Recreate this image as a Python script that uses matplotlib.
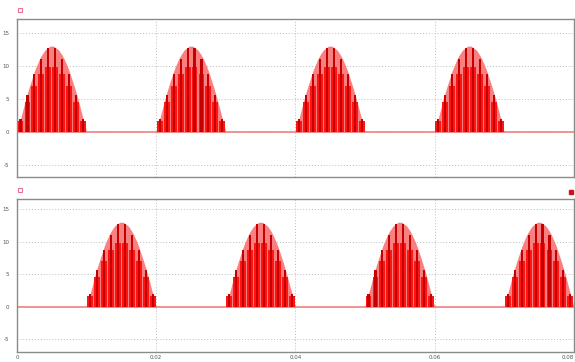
import numpy as np
import matplotlib.pyplot as plt
from matplotlib.lines import Line2D

plt.rcParams['axes.unicode_minus'] = False

# datos
half_period = 0.01
top_starts = [0.0, 0.02, 0.04, 0.06]
bottom_starts = [0.01, 0.03, 0.05, 0.07]

# envolvente de cada semiciclo (fraccion del semiciclo, valor)
env_frac = [0, 0.025, 0.05, 0.075, 0.1, 0.125, 0.15, 0.175, 0.2, 0.225, 0.25,
            0.275, 0.3, 0.325, 0.35, 0.375, 0.4, 0.425, 0.45, 0.475, 0.5,
            0.525, 0.55, 0.575, 0.6, 0.625, 0.65, 0.675, 0.7, 0.725, 0.75,
            0.775, 0.8, 0.825, 0.85, 0.875, 0.9, 0.925, 0.95, 0.975, 1.0]
env_val = [0, 1.0, 2.0, 3.0, 4.0, 5.0, 5.9, 6.8, 7.6, 8.4, 9.2,
           9.9, 10.5, 11.1, 11.6, 12.0, 12.4, 12.6, 12.8, 13.0, 13.0,
           13.0, 12.8, 12.6, 12.4, 12.0, 11.6, 11.1, 10.5, 9.9, 9.2,
           8.4, 7.6, 6.8, 5.9, 5.0, 4.0, 3.0, 2.0, 1.0, 0]

# pulsos dentro de cada semiciclo
pulse_frac = [0.05, 0.15, 0.25, 0.35, 0.45, 0.55, 0.65, 0.75, 0.85, 0.95]
pulse_dark = [1.9, 5.6, 8.8, 11.1, 12.7, 12.7, 11.1, 8.8, 5.6, 1.9]
pulse_red = [1.6, 4.6, 7.0, 8.8, 9.8, 9.8, 8.8, 7.0, 4.6, 1.6]

yticks = [-5, 0, 5, 10, 15]
xticks = [0, 0.02, 0.04, 0.06, 0.08]
xlabels = ['0', '0.02', '0.04', '0.06', '0.08']

fig = plt.figure(figsize=(5.75, 3.62), dpi=100)
ax1 = fig.add_axes([0.0296, 0.511, 0.9684, 0.4365])
ax2 = fig.add_axes([0.0296, 0.0276, 0.9684, 0.4214])


def dibujar(ax, starts, ylim):
    ef = np.array(env_frac)
    pf = np.array(pulse_frac)
    for s in starts:
        x = s + ef * half_period
        ax.fill_between(x, 0, env_val, color='#f88080', lw=0, zorder=2)
        xp = s + pf * half_period
        ax.bar(xp, pulse_red, width=half_period * 0.085, color='#ff1414', lw=0, zorder=3)
        ax.bar(xp, pulse_dark, width=half_period * 0.03, color='#c40000', lw=0, zorder=4)
    ax.axhline(0, color='#f08a8a', lw=1.3, zorder=1)
    ax.set_xlim(0, 0.08)
    ax.set_ylim(*ylim)
    ax.set_yticks(yticks)
    ax.set_xticks(xticks)
    ax.grid(True, color='#bbbbbb', ls=(0, (1, 2)), lw=0.7)
    ax.set_axisbelow(True)
    ax.tick_params(axis='y', length=0, labelsize=4, labelcolor='#555555', pad=5.5)
    ax.tick_params(axis='x', length=0, labelsize=4, labelcolor='#555555', pad=2)
    for sp in ax.spines.values():
        sp.set_color('#8a8a8a')
        sp.set_linewidth(1.0)


dibujar(ax1, top_starts, (-6.8, 17.1))
dibujar(ax2, bottom_starts, (-6.95, 16.5))
ax1.set_xticklabels([])
ax2.set_xticklabels(xlabels)
ax2.get_xticklabels()[-1].set_ha('right')

# marcadores pequenos de las trazas
fig.add_artist(Line2D([20 / 575], [1 - 10 / 362], marker='s', ms=3.5, mfc='none',
                      mec='#f07090', mew=0.8, transform=fig.transFigure))
fig.add_artist(Line2D([20 / 575], [1 - 190 / 362], marker='s', ms=3.5, mfc='none',
                      mec='#f07090', mew=0.8, transform=fig.transFigure))
fig.add_artist(Line2D([571 / 575], [1 - 192 / 362], marker='s', ms=3, mfc='#d01020',
                      mec='#d01020', transform=fig.transFigure))

fig.savefig('out.png', dpi=100)
